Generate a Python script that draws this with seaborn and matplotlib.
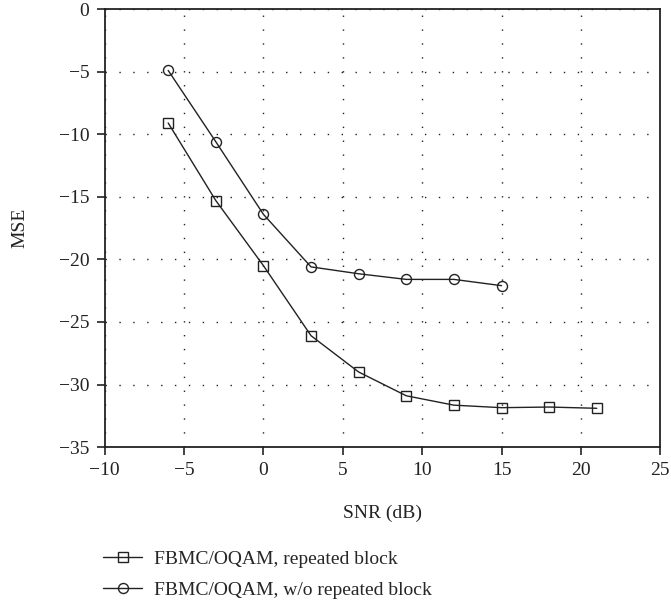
import numpy as np
import pandas as pd
import matplotlib
matplotlib.use('Agg')
import matplotlib.pyplot as plt
import seaborn as sns
from matplotlib.lines import Line2D

snr_rep = [-6, -3, 0, 3, 6, 9, 12, 15, 18, 21]
mse_rep = [-9.1, -15.3, -20.5, -26.1, -29.0, -30.9, -31.65, -31.85, -31.8, -31.9]
snr_norep = [-6, -3, 0, 3, 6, 9, 12, 15]
mse_norep = [-4.9, -10.6, -16.4, -20.6, -21.15, -21.6, -21.6, -22.1]
labels = ['FBMC/OQAM, repeated block', 'FBMC/OQAM, w/o repeated block']

sns.set_style('ticks')
plt.rcParams['font.family'] = ['Liberation Serif', 'DejaVu Serif']
plt.rcParams['axes.unicode_minus'] = True

df = pd.concat([
    pd.DataFrame({'SNR': snr_rep, 'MSE': mse_rep, 'series': labels[0]}),
    pd.DataFrame({'SNR': snr_norep, 'MSE': mse_norep, 'series': labels[1]}),
])

fig = plt.figure(figsize=(6.71, 6.05), dpi=100)
ax = fig.add_axes([0.156, 0.261, 0.828, 0.724])

ink = '#222222'
sizes = [6.5, 7.2]
for lab, mk, ms in zip(labels, ['s', 'o'], sizes):
    sns.lineplot(data=df[df['series'] == lab], x='SNR', y='MSE', color=ink,
                 marker=mk, markersize=ms, markerfacecolor='none',
                 markeredgecolor=ink, markeredgewidth=1.0, linewidth=1.0,
                 ax=ax, legend=False)

ax.set_xlim(-10, 25)
ax.set_ylim(-35, 0)
ax.set_xticks(np.arange(-10, 26, 5))
ax.set_yticks(np.arange(-35, 1, 5))
ax.grid(True, linestyle=(0, (1, 9)), color=ink, linewidth=1.0)
ax.tick_params(direction='out', length=6, width=1.2, pad=5, labelsize=14,
               colors=ink, top=False, right=False)
for s in ax.spines.values():
    s.set_linewidth(1.3)
    s.set_color(ink)
    s.set_visible(True)
ax.set_xlabel('SNR (dB)', fontsize=14, labelpad=18, color=ink)
ax.set_ylabel('MSE', fontsize=14, labelpad=22, color=ink)

handles = [Line2D([], [], color=ink, marker=m, markersize=ms, markerfacecolor='none',
                  linewidth=1.0) for m, ms in zip(['s', 'o'], sizes)]
fig.legend(handles, labels, loc='upper left', bbox_to_anchor=(0.128, 0.12),
           frameon=False, fontsize=14, handlelength=2.0, handletextpad=0.6,
           labelspacing=0.7)

fig.savefig('out.png', dpi=100)
